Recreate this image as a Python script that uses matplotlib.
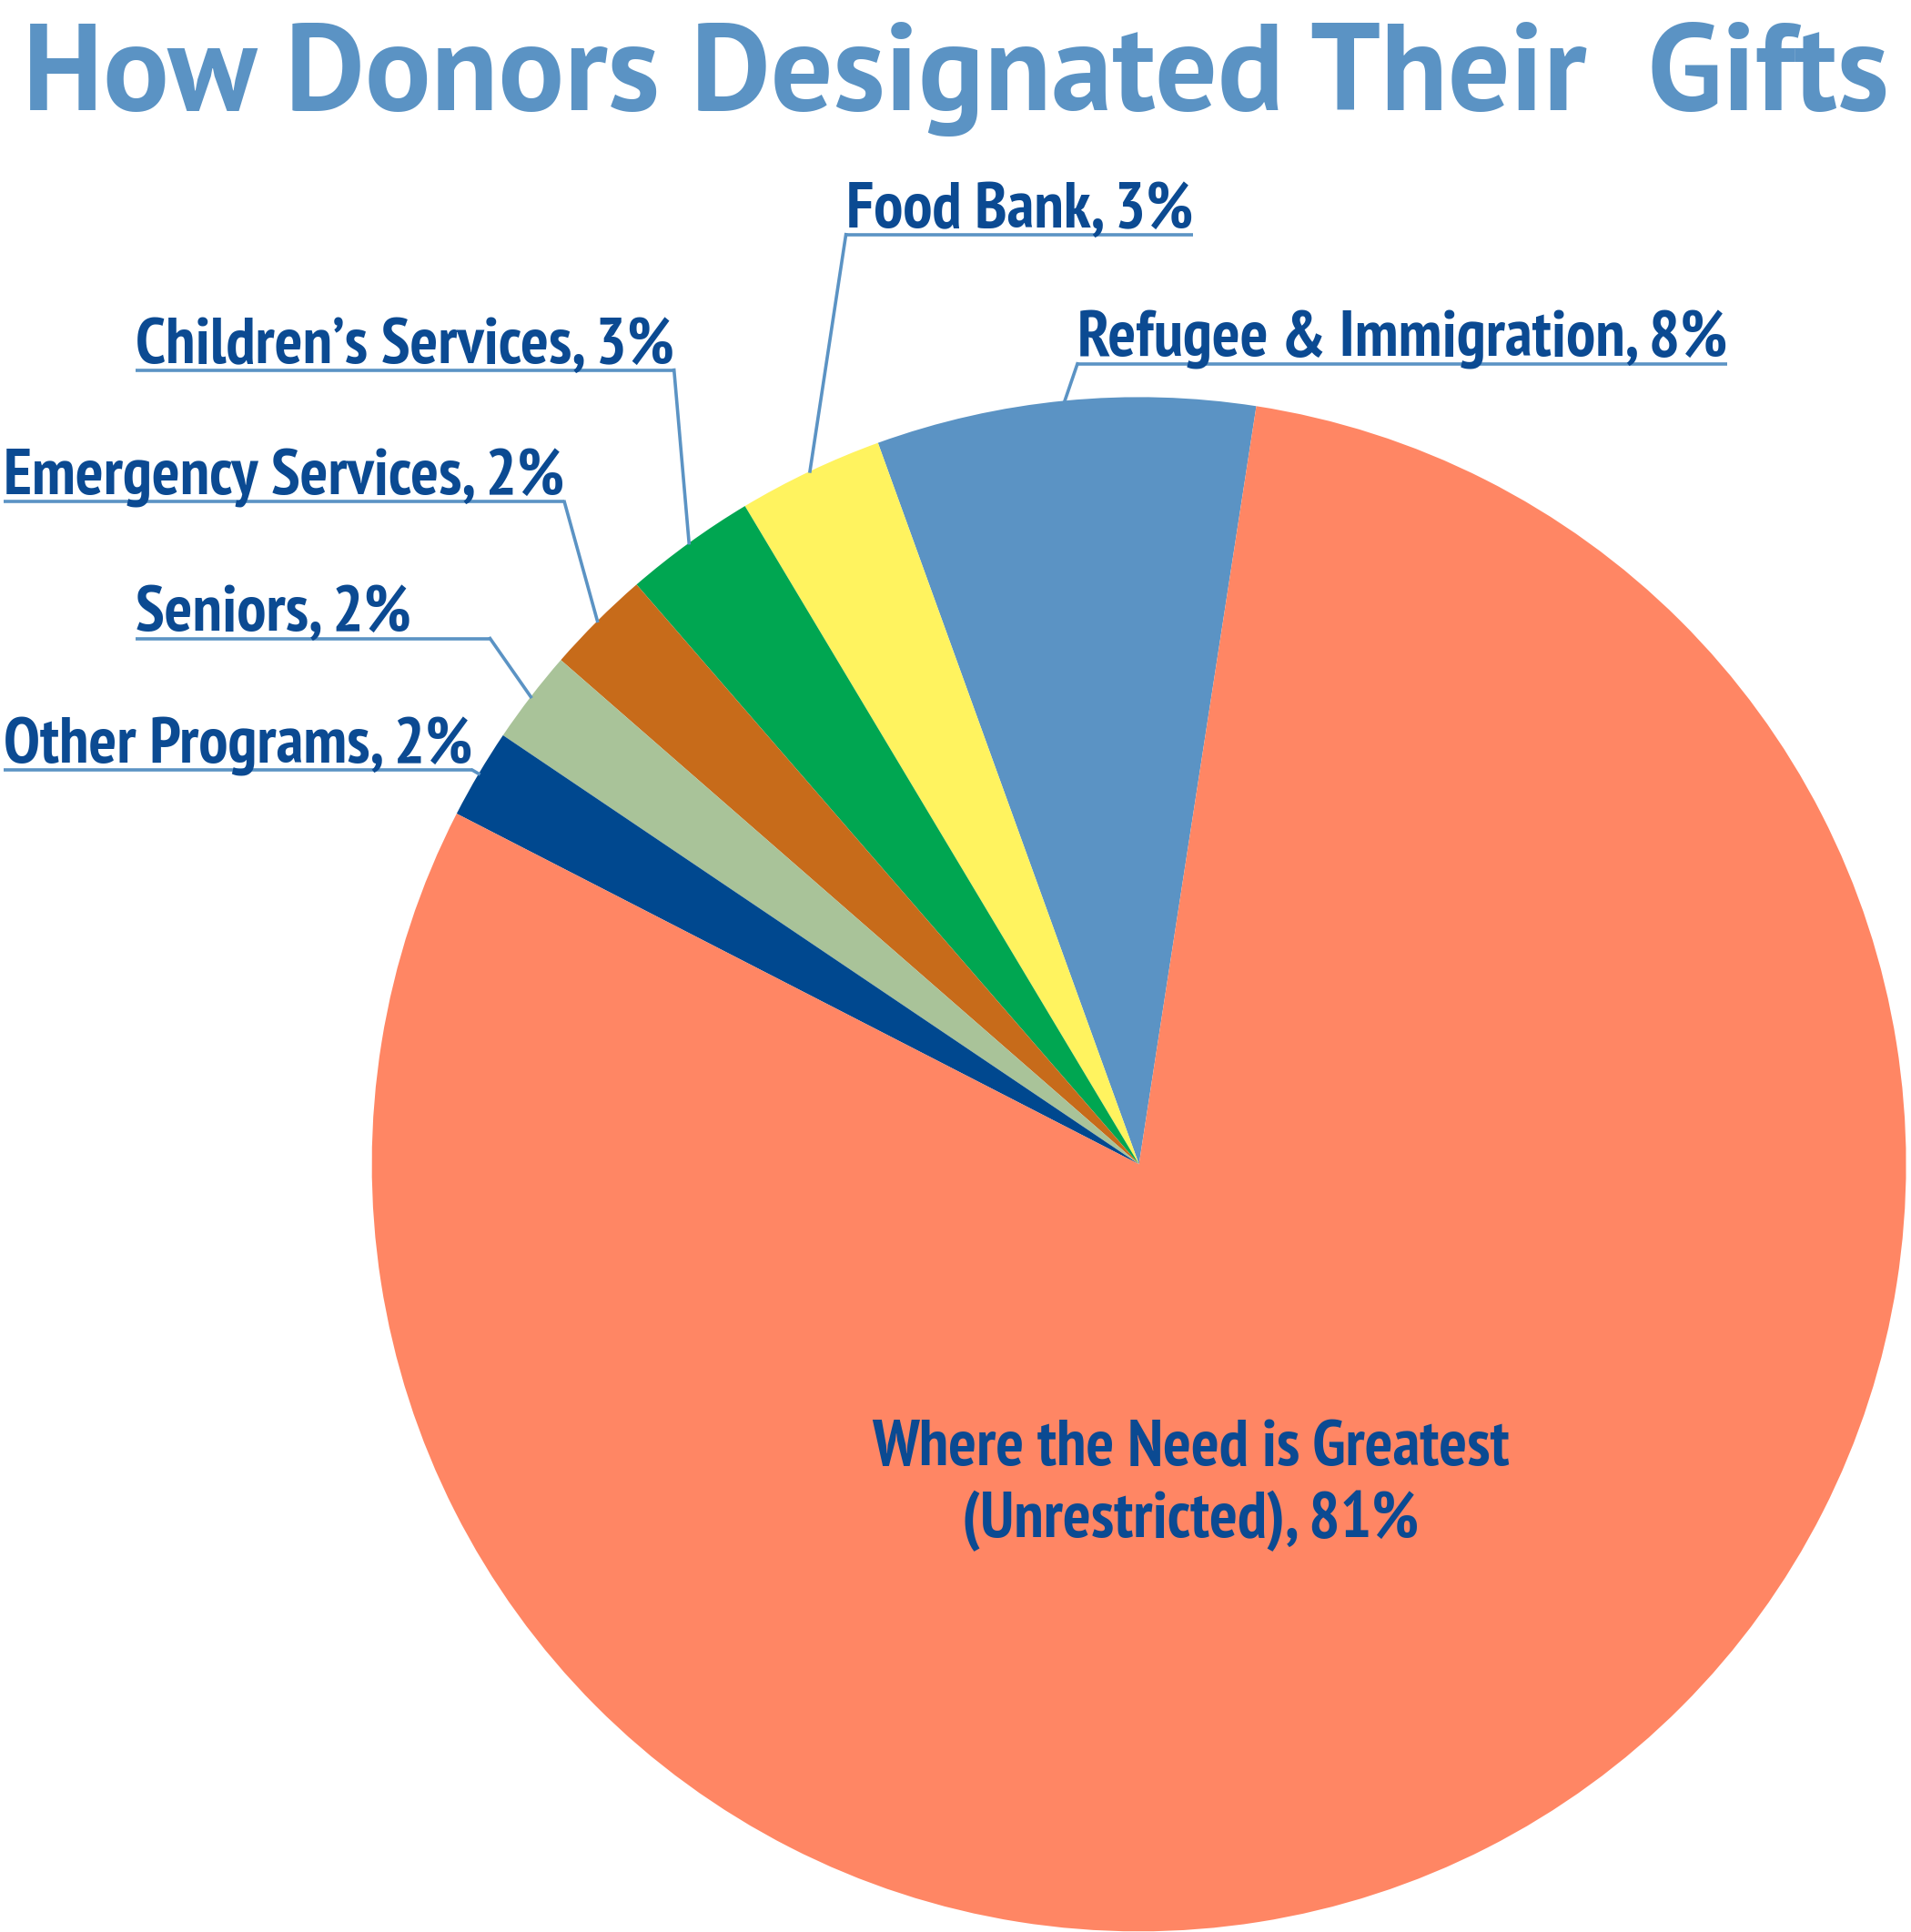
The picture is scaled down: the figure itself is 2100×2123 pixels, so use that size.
import numpy as np
import matplotlib.pyplot as plt

# slices, counter-clockwise from the top
categories = ['Refugee & Immigration', 'Food Bank', 'Children\u2019s Services',
              'Emergency Services', 'Seniors', 'Other Programs',
              'Where the Need is Greatest\n(Unrestricted)']
shares = [7.97, 3.06, 2.78, 2.22, 1.97, 1.89, 80.11]
pct_labels = ['8%', '3%', '3%', '2%', '2%', '2%', '81%']
colors = ['#5B93C4', '#FFF35F', '#00A651', '#C76B1A', '#A9C399', '#00488F', '#FF8664']

title = 'How Donors Designated Their  Gifts'
text_color = '#0B4A92'
line_color = '#5B93C4'

W, H = 1552, 1568

# label placement: x of underline start, y of underline (image coords),
# which end the leader leaves from, optional fixed underline end
label_pos = [(875, 295, 'left', None), (687, 190, 'left', None), (110, 300, 'right', None),
             (3, 407, 'right', None), (110, 518, 'right', 398), (3, 625, 'right', None)]

fig = plt.figure(figsize=(21, 21.23), dpi=100)
ax = fig.add_axes([0, 0, 1, 1])

wedges, _ = ax.pie(shares, colors=colors, startangle=81.2, counterclock=True,
                   center=(925, H - 945), radius=623, frame=True,
                   wedgeprops=dict(linewidth=0))
ax.set_xlim(0, W)
ax.set_ylim(0, H)
ax.set_axis_off()

cond = ['PT Sans Narrow', 'DejaVu Sans']
lab_font = dict(family=cond, weight='bold', color=text_color, fontsize=52)

texts = []
for i, (x0, yu, side, xe) in enumerate(label_pos):
    t = ax.text(x0, H - yu + 6, f'{categories[i]}, {pct_labels[i]}', ha='left',
                va='baseline', **lab_font)
    texts.append(t)

ax.text(967, H - 1206, f'{categories[6]}, {pct_labels[6]}', ha='center', va='center',
        linespacing=1.27, **lab_font)

ax.text(W / 2, H - 64, title, ha='center', va='center', fontsize=97.5,
        family=['PT Sans', 'DejaVu Sans'], weight='bold', color='#5B93C4')

fig.canvas.draw()
inv = ax.transData.inverted()
for i, (x0, yu, side, xe) in enumerate(label_pos):
    bb = texts[i].get_window_extent()
    x1 = inv.transform((bb.x1, bb.y0))[0] if xe is None else xe
    ax.plot([x0, x1], [H - yu, H - yu], color=line_color, lw=2.6, solid_capstyle='butt')
    w = wedges[i]
    mid = np.deg2rad((w.theta1 + w.theta2) / 2)
    ex = w.center[0] + w.r * np.cos(mid)
    ey = w.center[1] + w.r * np.sin(mid)
    sx = x0 if side == 'left' else x1
    ax.plot([sx, ex], [H - yu, ey], color=line_color, lw=2.6)

fig.savefig('out.png', dpi=100)
